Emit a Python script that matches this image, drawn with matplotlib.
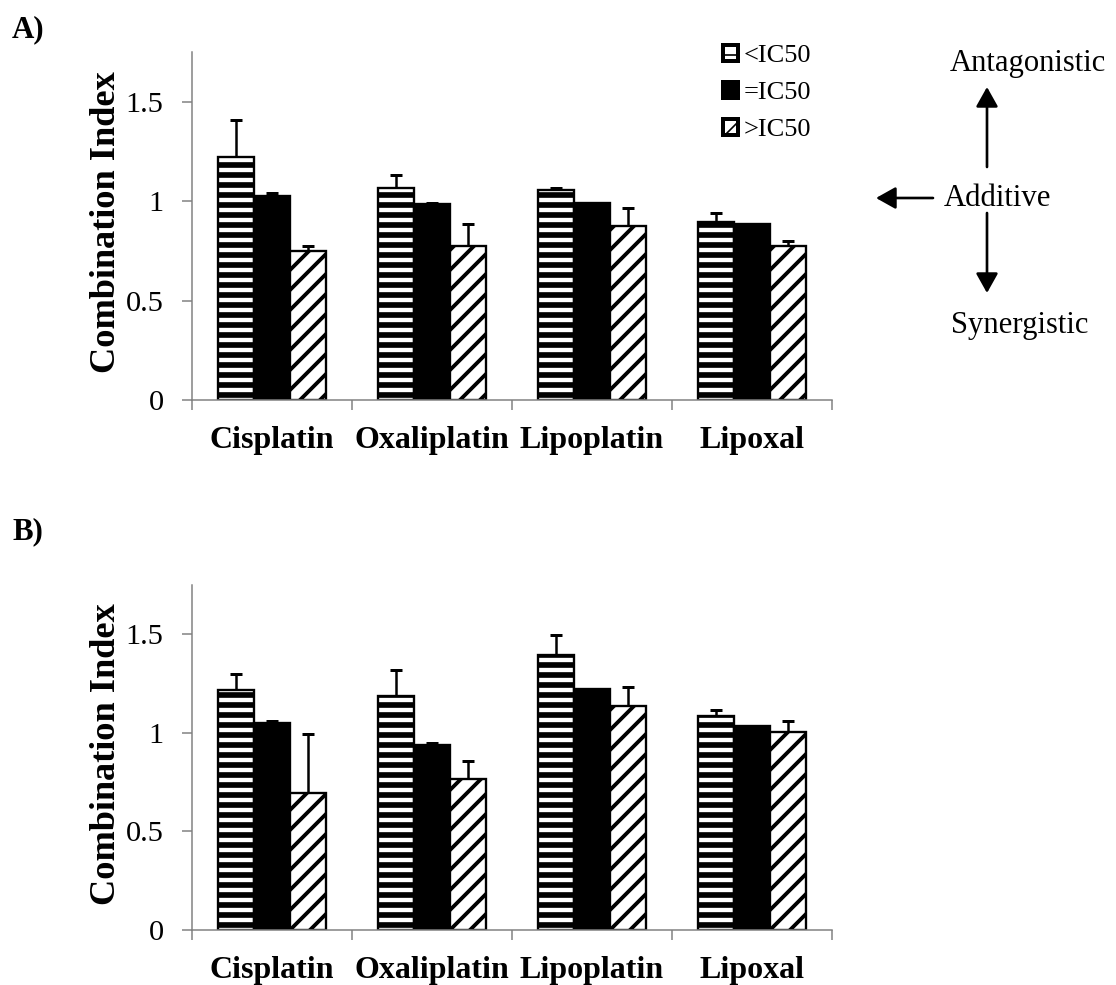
import numpy as np
import matplotlib
matplotlib.use('Agg')
import matplotlib.pyplot as plt

plt.rcParams['font.family'] = ['Liberation Serif', 'DejaVu Serif']

drugs = ['Cisplatin', 'Oxaliplatin', 'Lipoplatin', 'Lipoxal']
groups = ['<IC50', '=IC50', '>IC50']

# panel A
a_lt = [1.22, 1.065, 1.055, 0.894]
a_lt_err = [0.19, 0.065, 0.01, 0.046]
a_eq = [1.025, 0.985, 0.99, 0.885]
a_eq_err = [0.015, 0.005, 0.003, 0.0]
a_gt = [0.75, 0.775, 0.875, 0.775]
a_gt_err = [0.025, 0.11, 0.09, 0.025]

# panel B
b_lt = [1.217, 1.187, 1.394, 1.086]
b_lt_err = [0.083, 0.133, 0.101, 0.03]
b_eq = [1.05, 0.94, 1.22, 1.035]
b_eq_err = [0.01, 0.01, 0.005, 0.0]
b_gt = [0.697, 0.768, 1.136, 1.005]
b_gt_err = [0.298, 0.091, 0.096, 0.055]

W, H = 1116, 985
DPI = 120
fig = plt.figure(figsize=(W / DPI, H / DPI), dpi=DPI)


def fp(x, y):
    # pixel position (from top-left) -> figure fraction
    return (x / W, 1 - y / H)


styles = [dict(color='white', hatch='--', hlw=3.4),
          dict(color='black', hatch=None, hlw=1.0),
          dict(color='white', hatch='//', hlw=2.3)]

grey = '#808080'


def panel(rect, series, errs):
    ax = fig.add_axes(rect)
    x = np.arange(len(drugs))
    w = 0.225
    handles = []
    for i, (vals, err) in enumerate(zip(series, errs)):
        st = styles[i]
        pos = x + (i - 1) * w
        bars = ax.bar(pos, vals, w, color=st['color'], edgecolor='black',
                      linewidth=1.4, hatch=st['hatch'], zorder=2)
        for p in bars:
            if hasattr(p, 'set_hatch_linewidth'):
                p.set_hatch_linewidth(st['hlw'])
        ax.errorbar(pos, vals, yerr=[np.zeros(len(err)), err], fmt='none',
                    ecolor='black', elinewidth=1.5, capsize=3.8,
                    capthick=1.8, zorder=1)
        handles.append(bars)
    ax.set_xlim(-0.5, 3.5)
    ax.set_ylim(0, 1.75)
    ax.set_yticks([0, 0.5, 1, 1.5])
    ax.set_yticklabels(['0', '0.5', '1', '1.5'])
    ax.set_xticks([-0.5, 0.5, 1.5, 2.5, 3.5])
    ax.set_xticklabels([])
    ax.set_xticks(x, drugs, minor=True)
    ax.tick_params(axis='x', which='minor', length=0, pad=15.5,
                   labelsize=19.2)
    for t in ax.get_xticklabels(minor=True):
        t.set_fontweight('bold')
    ax.tick_params(axis='x', which='major', length=6, width=0.9,
                   color=grey, direction='out')
    ax.tick_params(axis='y', length=6, width=0.9, color=grey,
                   direction='out', pad=11, labelsize=18.2)
    for s in ['top', 'right']:
        ax.spines[s].set_visible(False)
    for s in ['left', 'bottom']:
        ax.spines[s].set_color(grey)
        ax.spines[s].set_linewidth(0.9)
    ax.set_ylabel('Combination Index', fontsize=21.8, fontweight='bold')
    ax.yaxis.set_label_coords(-0.108, 0.51)
    return ax, handles


axA, hA = panel([192 / W, 1 - 400 / H, 640 / W, 348 / H],
                [a_lt, a_eq, a_gt], [a_lt_err, a_eq_err, a_gt_err])
axB, hB = panel([192 / W, 1 - 930 / H, 640 / W, 345 / H],
                [b_lt, b_eq, b_gt], [b_lt_err, b_eq_err, b_gt_err])

leg = fig.legend(hA, groups, loc='upper left', bbox_to_anchor=fp(723, 45),
                 frameon=False, fontsize=15.8, handlelength=0.58,
                 handleheight=0.58, handletextpad=0.2, labelspacing=0.55,
                 borderpad=0, borderaxespad=0)
for h in leg.legend_handles:
    h.set_linewidth(2.4)

fig.text(*fp(12, 30), 'A)', fontsize=18.6, fontweight='bold',
         ha='left', va='center')
fig.text(*fp(12, 532), 'B)', fontsize=18.6, fontweight='bold',
         ha='left', va='center')

# interpretation key
fig.text(*fp(1028, 63), 'Antagonistic', fontsize=18.4, ha='center',
         va='center')
fig.text(*fp(998, 198), 'Additive', fontsize=18.4, ha='center', va='center')
fig.text(*fp(1020, 325), 'Synergistic', fontsize=18.4, ha='center',
         va='center')
arrow = dict(arrowstyle='-|>,head_length=0.5,head_width=0.28',
             color='black', lw=1.6, mutation_scale=20, shrinkA=0, shrinkB=0)
fig.add_artist(plt.Annotation('', xy=fp(987, 87), xytext=fp(987, 167),
                              xycoords='figure fraction',
                              textcoords='figure fraction',
                              arrowprops=arrow))
fig.add_artist(plt.Annotation('', xy=fp(987, 293), xytext=fp(987, 213),
                              xycoords='figure fraction',
                              textcoords='figure fraction',
                              arrowprops=arrow))
fig.add_artist(plt.Annotation('', xy=fp(876, 198), xytext=fp(933, 198),
                              xycoords='figure fraction',
                              textcoords='figure fraction',
                              arrowprops=arrow))

fig.savefig('out.png', dpi=DPI)
